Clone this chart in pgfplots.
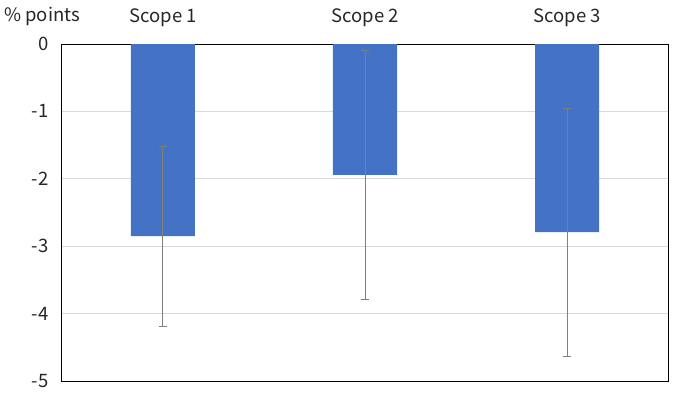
\documentclass[border=0pt]{standalone}
\usepackage{pgfplots}
\pgfplotsset{compat=1.18}
\usepackage{fontspec}
\setmainfont{Noto Sans CJK JP}
\definecolor{barblue}{HTML}{4472C4}
\definecolor{errgray}{HTML}{7F7F7F}
\definecolor{gridgray}{HTML}{D9D9D9}
\begin{document}
\begin{tikzpicture}
\useasboundingbox (-62pt,-11pt) rectangle (616pt,381pt);
\begin{axis}[
  at={(0,0)}, anchor=south west,
  scale only axis, width=606pt, height=337pt,
  xmin=-0.5, xmax=2.5, ymin=-5, ymax=0,
  xtick={0,1,2}, xticklabels={Scope 1,Scope 2,Scope 3},
  xticklabel pos=upper,
  ytick={-5,-4,-3,-2,-1,0},
  major tick length=0pt,
  ymajorgrids, grid style={gridgray, line width=0.8pt},
  axis line style={black, line width=1pt},
  tick label style={font=\fontsize{18.5}{20}\selectfont, text=black!85},
  xticklabel style={yshift=14pt},
  yticklabel style={xshift=-10pt},
  /pgf/number format/assume math mode=true,
  clip=false,
]
\addplot[ybar, bar width=64pt, fill=barblue, draw=none,
  error bars/.cd, y dir=both, y explicit,
  error bar style={errgray, line width=1pt},
  error mark options={rotate=90, mark size=4pt, errgray, line width=1pt}]
  coordinates {
  (0,-2.85) +- (0,1.335)
  (1,-1.94) +- (0,1.85)
  (2,-2.79) +- (0,1.84)
  };
\end{axis}
\node[font=\fontsize{18.5}{20}\selectfont, text=black!85] at (-20pt,365pt) {\% points};
\end{tikzpicture}
\end{document}
